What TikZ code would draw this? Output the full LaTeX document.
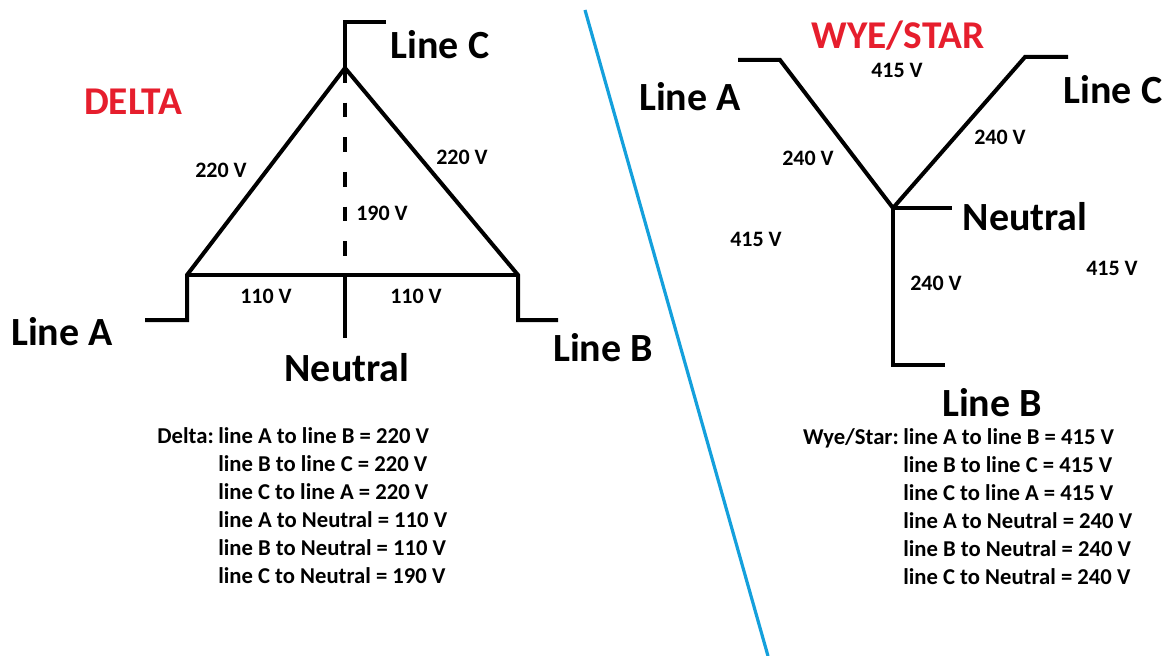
\documentclass[tikz,border=0pt]{standalone}
\usepackage{fontspec}
\setmainfont{Carlito}
\definecolor{titlered}{RGB}{230,30,45}
\definecolor{sepblue}{RGB}{20,160,220}
\begin{document}
\begin{tikzpicture}[x=0.75pt,y=-0.75pt,
  wire/.style={line width=3pt, line cap=butt, line join=miter},
  big/.style={font=\bfseries\fontsize{30}{36}\selectfont, inner sep=0pt},
  volt/.style={font=\bfseries\fontsize{16.5}{19}\selectfont, inner sep=0pt},
  title/.style={font=\bfseries\fontsize{29.5}{34}\selectfont, text=titlered, inner sep=0pt},
  info/.style={font=\bfseries\fontsize{17}{20}\selectfont, inner sep=0pt, anchor=mid west},
  infohead/.style={font=\bfseries\fontsize{17}{20}\selectfont, inner sep=0pt, anchor=mid east}]
\useasboundingbox[fill=white] (0,0) rectangle (1168,656);
% separator
\coordinate (s1) at (585,10);
\coordinate (s2) at (768,656);
\draw[line width=2.4pt, sepblue] (s1) -- (s2);
% ---------------- DELTA ----------------
\coordinate (dC) at (345,68);
\coordinate (dA) at (187,275);
\coordinate (dB) at (518,275);
\coordinate (dN) at (345,275);
\coordinate (dCt) at (345,22);
\coordinate (dCe) at (386,22);
\coordinate (dAb) at (187,320);
\coordinate (dAe) at (145,320);
\coordinate (dBb) at (518,320);
\coordinate (dBe) at (558,320);
\coordinate (dNe) at (345,338);
\draw[wire] (dAe) -- (dAb) -- (dA) -- (dC) -- (dB) -- (dBb) -- (dBe);
\draw[wire] (dA) -- (dB);
\draw[wire] (dCe) -- (dCt) -- (dC);
\draw[wire] (dN) -- (dNe);
\draw[wire, dash pattern=on 11pt off 15pt] (dC) -- (dN);
\node[title] (tD) at (133,102) {DELTA};
\node[big] (dlC) at (440,45) {Line C};
\node[big] (dlA) at (62,332) {Line A};
\node[big] (dlB) at (603,348) {Line B};
\node[big] (dlN) at (347,368) {Neutral};
\node[volt] (dv1) at (221,170) {220 V};
\node[volt] (dv2) at (462,157) {220 V};
\node[volt] (dv3) at (382,213) {190 V};
\node[volt] (dv4) at (266,296) {110 V};
\node[volt] (dv5) at (416,296) {110 V};
\node[infohead] (dh) at (214,440) {Delta:};
\node[info] (di1) at (218,440) {line A to line B = 220 V};
\node[info] (di2) at (218,468) {line B to line C = 220 V};
\node[info] (di3) at (218,496) {line C to line A = 220 V};
\node[info] (di4) at (218,524) {line A to Neutral = 110 V};
\node[info] (di5) at (218,552) {line B to Neutral = 110 V};
\node[info] (di6) at (218,580) {line C to Neutral = 190 V};
% ---------------- WYE ----------------
\coordinate (wO) at (893,208);
\coordinate (wA) at (780,60);
\coordinate (wAe) at (738,60);
\coordinate (wC) at (1025,57);
\coordinate (wCe) at (1068,57);
\coordinate (wN) at (952,208);
\coordinate (wB) at (893,365);
\coordinate (wBe) at (945,365);
\draw[wire] (wAe) -- (wA) -- (wO) -- (wC) -- (wCe);
\draw[wire] (wO) -- (wN);
\draw[wire] (wO) -- (wB) -- (wBe);
\node[title] (tW) at (898,36) {WYE/STAR};
\node[big] (wlA) at (690,97) {Line A};
\node[big] (wlC) at (1113,90) {Line C};
\node[big] (wlN) at (1025,217) {Neutral};
\node[big] (wlB) at (992,403) {Line B};
\node[volt] (wv1) at (897,70) {415 V};
\node[volt] (wv2) at (808,158) {240 V};
\node[volt] (wv3) at (1000,137) {240 V};
\node[volt] (wv4) at (756,239) {415 V};
\node[volt] (wv5) at (936,283) {240 V};
\node[volt] (wv6) at (1112,268) {415 V};
\node[infohead] (wh) at (899,441) {Wye/Star:};
\node[info] (wi1) at (903,441) {line A to line B = 415 V};
\node[info] (wi2) at (903,469) {line B to line C = 415 V};
\node[info] (wi3) at (903,497) {line C to line A = 415 V};
\node[info] (wi4) at (903,525) {line A to Neutral = 240 V};
\node[info] (wi5) at (903,553) {line B to Neutral = 240 V};
\node[info] (wi6) at (903,581) {line C to Neutral = 240 V};
\end{tikzpicture}
\end{document}
